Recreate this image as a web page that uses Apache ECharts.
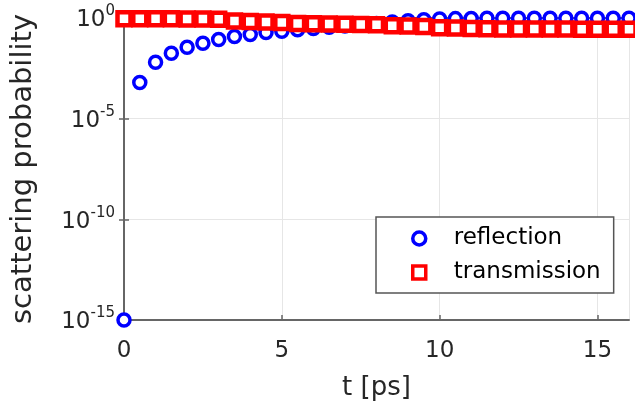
<!DOCTYPE html>
<html>
<head>
<meta charset="utf-8">
<script src="https://cdn.jsdelivr.net/npm/echarts@6/dist/echarts.min.js"></script>
<style>
  html, body { margin: 0; padding: 0; background: #fff; }
  #chart { width: 635px; height: 413px; }
</style>
</head>
<body>
<div id="chart"></div>
<script>
// time steps [ps]
const times = [0, 0.5, 1, 1.5, 2, 2.5, 3, 3.5, 4, 4.5, 5, 5.5, 6, 6.5, 7, 7.5, 8,
    8.5, 9, 9.5, 10, 10.5, 11, 11.5, 12, 12.5, 13, 13.5, 14, 14.5, 15, 15.5, 16];

// reflection probability
const reflection = [1e-15, 6.3e-4, 6.3e-3, 0.0178, 0.0355, 0.0562, 0.0851, 0.120, 0.151,
    0.191, 0.219, 0.263, 0.302, 0.347, 0.398, 0.468, 0.537, 0.631, 0.724, 0.813, 0.891,
    0.933, 0.955, 0.966, 0.977, 0.977, 0.98, 0.98, 0.98, 0.98, 0.98, 0.98, 0.98];

// transmission probability
const transmission = [0.912, 0.912, 0.912, 0.912, 0.891, 0.891, 0.871, 0.708, 0.676,
    0.631, 0.603, 0.537, 0.513, 0.501, 0.490, 0.479, 0.468, 0.417, 0.398, 0.380, 0.331,
    0.316, 0.302, 0.295, 0.288, 0.288, 0.282, 0.282, 0.282, 0.275, 0.275, 0.275, 0.275];

const font = 'DejaVu Sans';
const axisColor = '#666';

const chart = echarts.init(document.getElementById('chart'));

const boxAxis = {
    axisLine: { show: true, lineStyle: { color: axisColor, width: 2 } },
    axisTick: { show: true, inside: true, length: 5, lineStyle: { color: axisColor, width: 1.5 } },
    axisLabel: { show: false },
    splitLine: { show: false }
};

const option = {
    animation: false,
    grid: { left: 124, right: 6, top: 18, bottom: 93 },
    xAxis: [{
        type: 'value',
        min: 0,
        max: 16,
        interval: 5,
        name: 't [ps]',
        nameLocation: 'middle',
        nameGap: 55,
        nameTextStyle: { fontFamily: font, fontSize: 26, color: '#262626' },
        axisLine: { show: true, onZero: false, lineStyle: { color: axisColor, width: 2 } },
        axisTick: { show: true, inside: true, length: 5, lineStyle: { color: axisColor, width: 1.5 } },
        axisLabel: {
            fontFamily: font, fontSize: 23, color: '#262626', margin: 20,
            showMaxLabel: false
        },
        splitLine: { show: true, lineStyle: { color: '#e6e6e6', width: 1 } }
    }, Object.assign({ type: 'value', position: 'top', min: 0, max: 16, interval: 5 }, boxAxis)],
    yAxis: [{
        type: 'log',
        logBase: 10,
        min: 1e-15,
        max: 1,
        interval: 5,
        name: 'scattering probability',
        nameLocation: 'middle',
        nameGap: 86,
        nameTextStyle: { fontFamily: font, fontSize: 29, color: '#262626' },
        axisLine: { show: true, lineStyle: { color: axisColor, width: 2 } },
        axisTick: { show: true, inside: true, length: 5, lineStyle: { color: axisColor, width: 1.5 } },
        minorTick: { show: false },
        axisLabel: {
            margin: 9,
            formatter: function (v) {
                const e = Math.round(Math.log10(v));
                return '{a|10}{b|' + e + '}';
            },
            rich: {
                a: { fontFamily: font, fontSize: 23, color: '#262626', lineHeight: 28, verticalAlign: 'bottom' },
                b: { fontFamily: font, fontSize: 15, color: '#262626', verticalAlign: 'top', lineHeight: 28 }
            }
        },
        splitLine: { show: true, lineStyle: { color: '#e6e6e6', width: 1 } }
    }, Object.assign({ type: 'log', logBase: 10, position: 'right', min: 1e-15, max: 1, interval: 5 }, boxAxis)],
    legend: {
        orient: 'vertical',
        left: 376,
        top: 217,
        padding: [10, 13, 9, 35],
        itemWidth: 13,
        itemHeight: 13,
        itemGap: 11,
        borderColor: '#555',
        borderWidth: 1.5,
        backgroundColor: '#fff',
        textStyle: { fontFamily: font, fontSize: 23, color: '#000', padding: [0, 0, 0, 23] },
        data: [
            { name: 'reflection', itemStyle: { color: '#fff', borderColor: '#0000ff', borderWidth: 3.5 } },
            { name: 'transmission', itemStyle: { color: '#fff', borderColor: '#ff0000', borderWidth: 3.5 } }
        ]
    },
    series: [{
        name: 'reflection',
        type: 'scatter',
        symbol: 'circle',
        symbolSize: 12,
        clip: false,
        itemStyle: { color: '#fff', borderColor: '#0000ff', borderWidth: 3.5, opacity: 1 },
        data: times.map((t, i) => [t, reflection[i]]),
        z: 2
    }, {
        name: 'transmission',
        type: 'scatter',
        symbol: 'rect',
        symbolSize: 13,
        clip: false,
        itemStyle: { color: '#fff', borderColor: '#ff0000', borderWidth: 4.5, opacity: 1 },
        data: times.map((t, i) => [t, transmission[i]]),
        z: 3
    }]
};

chart.setOption(option);
</script>
</body>
</html>
